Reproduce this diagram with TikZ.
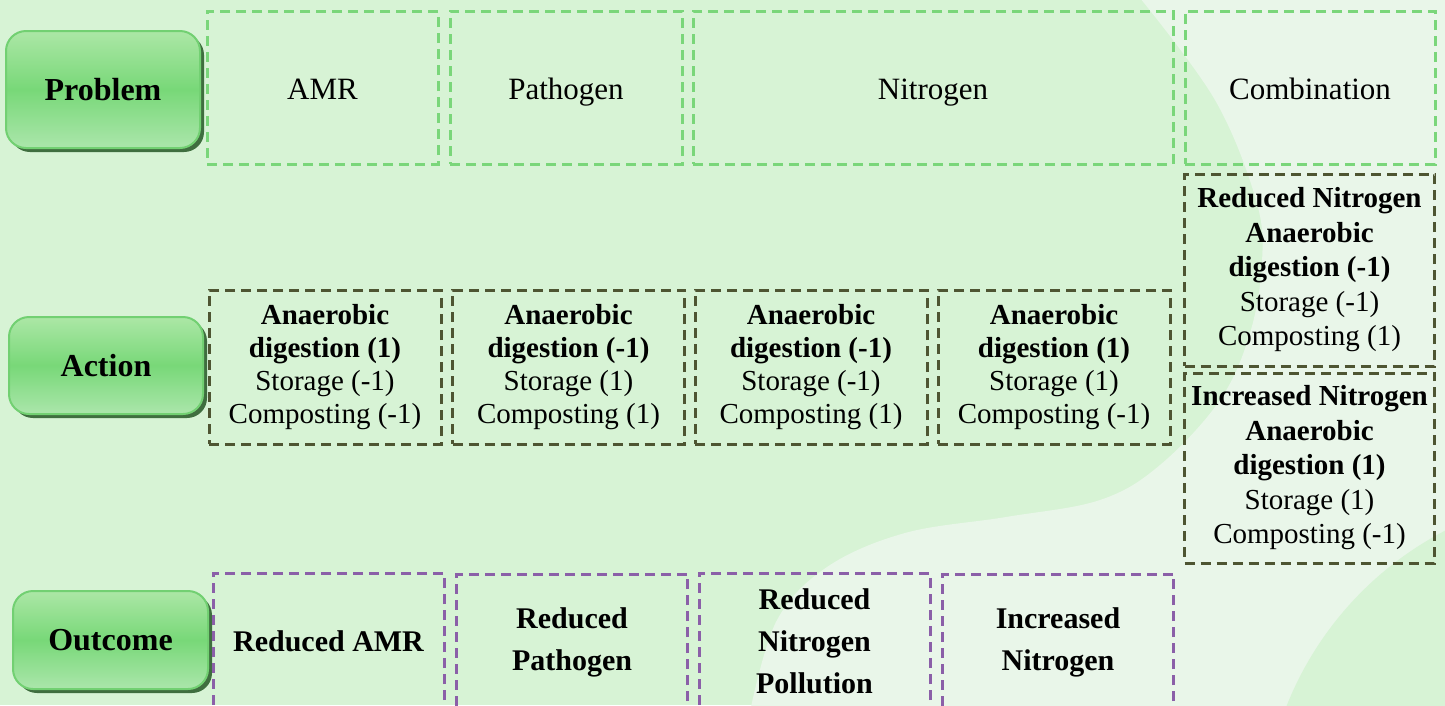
\documentclass[tikz,border=0pt]{standalone}
\usepackage{fontspec}
\setmainfont{Liberation Serif}
\usetikzlibrary{shadows}

\definecolor{bggreen}{HTML}{D7F3D5}
\definecolor{bglight}{HTML}{E9F6E9}
\definecolor{btntop}{HTML}{ACE7A6}
\definecolor{btnmid}{HTML}{78D878}
\definecolor{btnbot}{HTML}{ABE6AB}
\definecolor{btnrim}{HTML}{72D072}
\definecolor{btnshadow}{HTML}{3F6E3F}
\definecolor{probline}{HTML}{7AD67A}
\definecolor{actline}{HTML}{4E5532}
\definecolor{outline}{HTML}{8B5FA8}

% fixed height and depth so every heading sits on the same baseline
\newcommand{\rowstrut}{\rule[-7pt]{0pt}{37pt}}

\tikzset{
  rowbutton/.style={rectangle, rounded corners=20pt, draw=btnrim, line width=2pt,
    top color=btntop, bottom color=btnbot, middle color=btnmid,
    drop shadow={shadow xshift=4pt, shadow yshift=-4pt, fill=btnshadow, opacity=1},
    font=\fontsize{32}{36}\selectfont\bfseries, inner sep=0pt},
  dashbox/.style={rectangle, line width=3pt, dash pattern=on 10pt off 6pt,
    inner sep=0pt, align=center},
  probbox/.style={dashbox, draw=probline, minimum height=153pt,
    font=\fontsize{31}{35}\selectfont},
  actbox/.style={dashbox, draw=actline, minimum width=232pt, minimum height=154pt,
    font=\fontsize{29}{33}\selectfont},
  combbox/.style={dashbox, draw=actline, minimum width=250pt,
    font=\fontsize{29}{34.5}\selectfont},
  outbox/.style={dashbox, draw=outline, minimum width=231pt, minimum height=136pt,
    font=\fontsize{30}{42}\selectfont\bfseries}
}

\begin{document}
\begin{tikzpicture}[x=1pt, y=-1pt]
\useasboundingbox (0,0) rectangle (1445,705);
\clip (0,0) rectangle (1445,705);

% backdrop: green field, pale wave on the right, green disc in the corner
\fill[bggreen] (0,0) rectangle (1445,705);
\fill[bglight] plot[smooth, tension=0.6] coordinates {(1140,-2) (1215,100) (1256,200) (1262,262)
  (1250,333) (1220,400) (1160,465) (1100,500) (1006,517) (905,533) (827,567) (777,620) (751,707)}
  -- (1447,707) -- (1447,-2) -- cycle;
\fill[bggreen] (1600,830) circle[radius=337];

% row headings
\node[rowbutton, minimum width=194pt, minimum height=117pt] (problem) at (103,89.5) {Problem};
\node[rowbutton, minimum width=194pt, minimum height=97pt] (action) at (106,365.5) {Action};
\node[rowbutton, minimum width=195pt, minimum height=98pt] (outcome) at (110.5,640) {Outcome};

% problems
\node[probbox, minimum width=231pt] (amr) at (322.5,87.5) {\rowstrut AMR};
\node[probbox, minimum width=232pt] (pathogen) at (566,87.5) {\rowstrut Pathogen};
\node[probbox, minimum width=480pt] (nitrogen) at (933,87.5) {\rowstrut Nitrogen};
\node[probbox, minimum width=250pt] (combination) at (1310,87.5) {\rowstrut Combination};

% actions
\node[actbox] (act1) at (325,367) {\textbf{Anaerobic}\\\textbf{digestion (1)}\\Storage (-1)\\Composting (-1)};
\node[actbox] (act2) at (568.5,367) {\textbf{Anaerobic}\\\textbf{digestion (-1)}\\Storage (1)\\Composting (1)};
\node[actbox] (act3) at (811,367) {\textbf{Anaerobic}\\\textbf{digestion (-1)}\\Storage (-1)\\Composting (1)};
\node[actbox] (act4) at (1054,367) {\textbf{Anaerobic}\\\textbf{digestion (1)}\\Storage (1)\\Composting (-1)};

\node[combbox, minimum height=192pt] (combred) at (1309.5,270)
  {\textbf{Reduced Nitrogen}\\\textbf{Anaerobic}\\\textbf{digestion (-1)}\\Storage (-1)\\Composting (1)};
\node[combbox, minimum height=190pt] (combinc) at (1309.5,468)
  {\textbf{Increased Nitrogen}\\\textbf{Anaerobic}\\\textbf{digestion (1)}\\Storage (1)\\Composting (-1)};

% outcomes
\node[outbox] (out1) at (328.5,641) {Reduced AMR};
\node[outbox] (out2) at (572,642) {Reduced\\Pathogen};
\node[outbox] (out3) at (814.5,641) {Reduced\\Nitrogen\\Pollution};
\node[outbox] (out4) at (1058,642) {Increased\\Nitrogen};
\end{tikzpicture}
\end{document}
